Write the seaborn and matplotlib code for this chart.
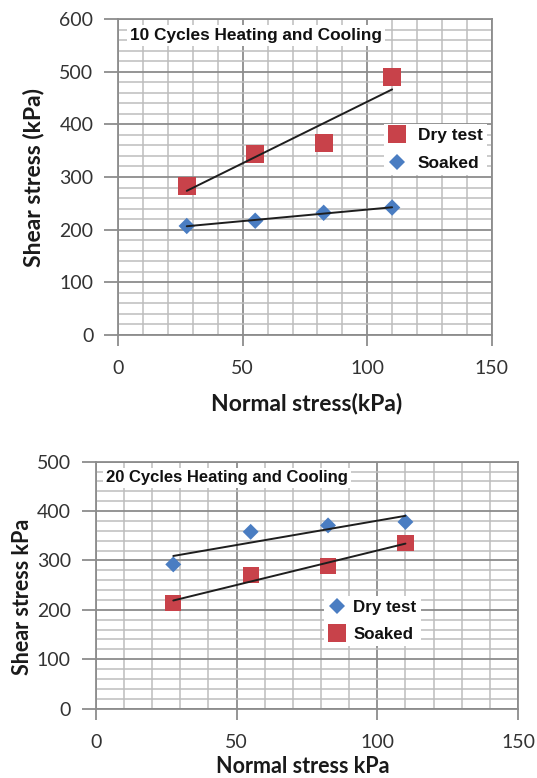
import matplotlib
matplotlib.use("Agg")
import matplotlib.pyplot as plt
from matplotlib.ticker import MultipleLocator
from matplotlib.lines import Line2D
from matplotlib.font_manager import FontProperties
import pandas as pd
import seaborn as sns

# Direct shear test results after thermal cycling
normal_stress = [27.5, 55, 82.5, 110]
dry_10 = [283, 343, 364, 490]
soaked_10 = [207, 217, 232, 242]
dry_20 = [292, 358, 371, 378]
soaked_20 = [213, 270, 288, 335]

series_names = ["Dry test", "Soaked"]
titles = ["10 Cycles Heating and Cooling", "20 Cycles Heating and Cooling"]
x_labels = ["Normal stress(kPa)", "Normal stress kPa"]
y_labels = ["Shear stress (kPa)", "Shear stress kPa"]
x_limits = (0, 150)
y_limits = [(0, 600), (0, 500)]

RED = "#C8424A"
BLUE = "#4A7DC2"
MAJOR_GRID = "#8C8C8C"
MINOR_GRID = "#BDBDBD"
TICK_TEXT = "#333333"

sns.set_theme(style="white")
plt.rcParams["font.family"] = ["Lato", "DejaVu Sans"]

arial_bold = lambda size: FontProperties(family=["Liberation Sans", "DejaVu Sans"],
                                         weight="bold", size=size)
label_font = lambda size: FontProperties(family=["Lato", "DejaVu Sans"],
                                         weight="bold", size=size)

fig = plt.figure(figsize=(5.37, 7.78), dpi=100)
W, H = 537.0, 778.0
ax_top = fig.add_axes([118.3 / W, 1 - 335 / H, 373.4 / W, 316 / H])
ax_bot = fig.add_axes([95.9 / W, 1 - 708.6 / H, 422.1 / W, 246.9 / H])


def draw_panel(ax, dry, soaked, styles, ylim, title, xlabel, ylabel,
               title_xy, title_size, legend_xy, legend_size, label_size,
               xlabel_xy, ylabel_xy, spacing, sizes):
    df = pd.DataFrame({
        "Normal stress": normal_stress * 2,
        "Shear stress": dry + soaked,
        "Test": [series_names[0]] * len(dry) + [series_names[1]] * len(soaked),
    })

    palette = {name: styles[name][0] for name in series_names}
    markers = {name: styles[name][1] for name in series_names}
    sns.scatterplot(data=df, x="Normal stress", y="Shear stress", hue="Test",
                    style="Test", size="Test", palette=palette, markers=markers,
                    sizes=sizes, linewidth=0, legend=False, ax=ax, zorder=3)

    # Linear trend lines across the tested range
    for name in series_names:
        sub = df[df["Test"] == name]
        sns.regplot(data=sub, x="Normal stress", y="Shear stress", ax=ax,
                    scatter=False, ci=None, truncate=True,
                    line_kws=dict(color="#1E1E1E", lw=1.4, zorder=4))

    ax.set_xlim(*x_limits)
    ax.set_ylim(*ylim)
    ax.xaxis.set_major_locator(MultipleLocator(50))
    ax.xaxis.set_minor_locator(MultipleLocator(10))
    ax.yaxis.set_major_locator(MultipleLocator(100))
    ax.yaxis.set_minor_locator(MultipleLocator(20))
    ax.set_axisbelow(True)
    ax.grid(which="major", color=MAJOR_GRID, lw=1.3)
    ax.grid(which="minor", color=MINOR_GRID, lw=1.1)
    for sp in ax.spines.values():
        sp.set_color(MAJOR_GRID)
        sp.set_linewidth(1.3)

    ax.tick_params(axis="y", which="major", left=True, direction="out",
                   length=10, width=1.3, color=MAJOR_GRID, pad=8,
                   labelsize=14, labelcolor=TICK_TEXT)
    ax.tick_params(axis="x", which="major", bottom=True, direction="out",
                   length=8, width=1.3, color=MAJOR_GRID, pad=10,
                   labelsize=14, labelcolor=TICK_TEXT)
    ax.tick_params(which="minor", length=0)

    ax.set_xlabel(xlabel, fontproperties=label_font(label_size[0]), color="#1A1A1A")
    ax.set_ylabel(ylabel, fontproperties=label_font(label_size[1]), color="#1A1A1A")
    ax.xaxis.label.set_va("center")
    ax.yaxis.label.set_va("center")
    ax.xaxis.set_label_coords(*xlabel_xy)
    ax.yaxis.set_label_coords(*ylabel_xy)

    ax.text(title_xy[0], title_xy[1], title, transform=ax.transAxes,
            ha="left", va="center", fontproperties=arial_bold(title_size),
            color="#111111", zorder=6,
            bbox=dict(facecolor="white", edgecolor="none", pad=2))

    handles = []
    for name in series_names:
        color, marker = styles[name]
        ms = 12.5 if marker == "s" else 8.6
        handles.append(Line2D([], [], ls="", marker=marker, color=color,
                              markersize=ms, markeredgewidth=0))
    ax.legend(handles, series_names, loc="upper left",
              bbox_to_anchor=legend_xy, borderaxespad=0, frameon=True,
              facecolor="white", edgecolor="none", framealpha=1,
              fancybox=False, prop=arial_bold(legend_size),
              handlelength=1.0, handletextpad=spacing[0], borderpad=0.25,
              labelspacing=spacing[1], labelcolor="#111111")


draw_panel(ax_top, dry_10, soaked_10,
           {"Dry test": (RED, "s"), "Soaked": (BLUE, "D")},
           y_limits[0], titles[0], x_labels[0], y_labels[0],
           title_xy=(0.031, 0.947), title_size=12.4,
           legend_xy=(0.712, 0.669), legend_size=12.5, label_size=(16.5, 16.5),
           xlabel_xy=(0.505, -0.218), ylabel_xy=(-0.228, 0.498),
           spacing=(0.7, 0.74), sizes={"Dry test": 170, "Soaked": 70})

draw_panel(ax_bot, dry_20, soaked_20,
           {"Dry test": (BLUE, "D"), "Soaked": (RED, "s")},
           y_limits[1], titles[1], x_labels[1], y_labels[1],
           title_xy=(0.024, 0.934), title_size=12.0,
           legend_xy=(0.540, 0.458), legend_size=12.2, label_size=(15.5, 15.5),
           xlabel_xy=(0.491, -0.2365), ylabel_xy=(-0.175, 0.452),
           spacing=(0.5, 0.71), sizes={"Dry test": 66, "Soaked": 135})

fig.savefig("out.png", dpi=100, facecolor="white")
